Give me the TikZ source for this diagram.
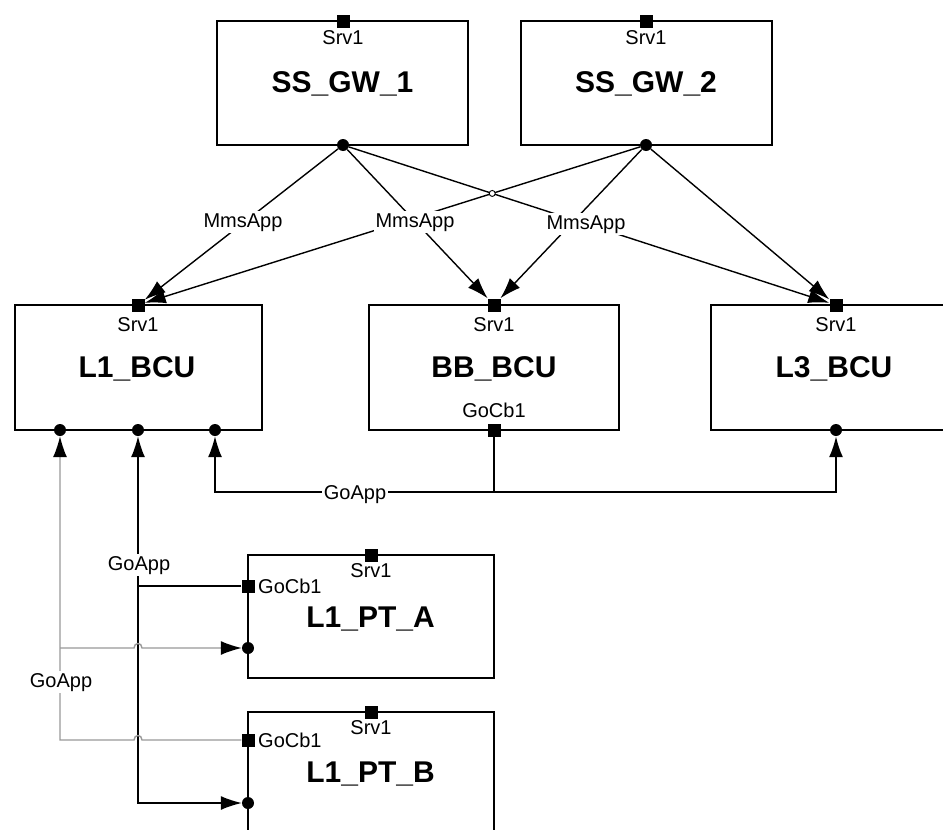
\documentclass[tikz,border=0pt]{standalone}
\usepackage{fontspec}
\setmainfont{Liberation Sans}
\usetikzlibrary{arrows.meta,calc}
\begin{document}
\begin{tikzpicture}[x=1pt,y=-1pt]
\tikzset{
 box/.style={draw, line width=1.7pt, inner sep=0pt, minimum height=124pt},
 sq/.style={fill=black, inner sep=0pt, minimum size=13pt},
 dotp/.style={circle, fill=black, inner sep=0pt, minimum size=12pt},
 ttl/.style={font=\bfseries\fontsize{30}{30}\selectfont, anchor=base, inner sep=0pt},
 sml/.style={font=\fontsize{20}{20}\selectfont, anchor=base, inner sep=0pt},
 lbl/.style={font=\fontsize{20}{20}\selectfont, anchor=base, fill=white, inner sep=2pt},
 tip/.tip={Latex[length=21pt,width=14pt]},
 gtip/.tip={Latex[length=21pt,width=14pt,color=black]},
 conn/.style={line width=1.4pt, -tip},
 gconn/.style={line width=1.4pt, draw=gray!80, -gtip},
 plain/.style={line width=1.4pt},
}
\useasboundingbox (0,0) rectangle (943,830);
\fill[white] (0,0) rectangle (943,830);

% boxes
\node[box, minimum width=251pt] (gw1) at (342.5,83) {};
\node[box, minimum width=251pt] (gw2) at (646.5,83) {};
\node[box, minimum width=247pt, minimum height=125pt] (l1) at (138.5,367.5) {};
\node[box, minimum width=250pt, minimum height=125pt] (bb) at (494,367.5) {};
\node[box, minimum width=250pt, minimum height=125pt] (l3) at (836,367.5) {};
\node[box, minimum width=246pt, minimum height=123pt] (pta) at (371,616.5) {};
\node[box, minimum width=246pt, minimum height=123pt] (ptb) at (371,773.5) {};

% titles
\node[ttl] (tgw1) at (342.5,92) {SS\_GW\_1};
\node[ttl] (tgw2) at (646,92) {SS\_GW\_2};
\node[ttl] (tl1) at (137,377) {L1\_BCU};
\node[ttl] (tbb) at (494,377) {BB\_BCU};
\node[ttl] (tl3) at (834,377) {L3\_BCU};
\node[ttl] (tpta) at (370.5,627) {L1\_PT\_A};
\node[ttl] (tptb) at (370.5,782) {L1\_PT\_B};

% Srv1 / GoCb1 labels
\node[sml] (s1) at (343,44) {Srv1};
\node[sml] (s2) at (646,44) {Srv1};
\node[sml] (s3) at (138,331) {Srv1};
\node[sml] (s4) at (494,331) {Srv1};
\node[sml] (s5) at (836,331) {Srv1};
\node[sml] (s6) at (371,577) {Srv1};
\node[sml] (s7) at (371,734) {Srv1};
\node[sml] (c1) at (494,417) {GoCb1};
\node[sml, anchor=base west] (c2) at (258,593) {GoCb1};
\node[sml, anchor=base west] (c3) at (258,747) {GoCb1};

% ports
\node[sq] (gw1s) at (343,21) {};
\node[sq] (gw2s) at (646,21) {};
\node[dotp] (gw1d) at (343,145) {};
\node[dotp] (gw2d) at (646,145) {};
\node[sq] (l1s) at (138,305) {};
\node[sq] (bbs) at (494,305) {};
\node[sq] (l3s) at (836,305) {};
\node[dotp] (l1d1) at (60,430) {};
\node[dotp] (l1d2) at (138,430) {};
\node[dotp] (l1d3) at (215,430) {};
\node[sq] (bbg) at (494,430) {};
\node[dotp] (l3d) at (836,430) {};
\node[sq] (ptas) at (371,555) {};
\node[sq] (ptag) at (248,586) {};
\node[dotp] (ptad) at (248,648) {};
\node[sq] (ptbs) at (371,712) {};
\node[sq] (ptbg) at (248,740) {};
\node[dotp] (ptbd) at (248,803) {};

% MMS connectors
\draw[conn] (gw2d) -- (l3s);
\draw[conn] (gw2d) -- (l1s);
\draw[conn] (gw2d) -- (bbs);
\draw[conn] (gw1d) -- (l1s);
\draw[conn] (gw1d) -- (bbs);
\draw[conn] (gw1d) -- (l3s);
\coordinate (jx) at ($(gw1d)!0.3027!(l3s)$);
\draw[line width=0.9pt, fill=white] (jx) circle (3pt);
\node[lbl] (m1) at (243,227) {MmsApp};
\node[lbl] (m2) at (415,227) {MmsApp};
\node[lbl] (m3) at (586,229) {MmsApp};

% GOOSE bus from BB_BCU
\coordinate (bus) at (494,492);
\draw[plain] (bbg) -- (bus);
\draw[conn] (bus) -| (l1d3);
\draw[conn, line width=2pt] (bus) -| (l3d);
\node[lbl] (ga1) at (355,499) {GoApp};

% black GOOSE from L1_PT_A
\coordinate (ka) at (138,586);
\draw[conn] (ptag) -- (ka) -- (l1d2);
\draw[conn] (ka) |- (ptbd);
\node[lbl] (ga2) at (139,570) {GoApp};

% gray GOOSE from L1_PT_B
\coordinate (gb) at (60,740);
\coordinate (gj1) at (142,740);
\coordinate (gj1b) at (134,740);
\coordinate (ga) at (60,648);
\coordinate (gj2) at (134,648);
\coordinate (gj2b) at (142,648);
\draw[gconn] (ptbg) -- (gj1) .. controls (142,734) and (134,734) .. (gj1b) -- (gb) -- (l1d1);
\draw[gconn] (ga) -- (gj2) .. controls (134,642) and (142,642) .. (gj2b) -- (ptad);
\node[lbl] (ga3) at (61,687) {GoApp};
\end{tikzpicture}
\end{document}
